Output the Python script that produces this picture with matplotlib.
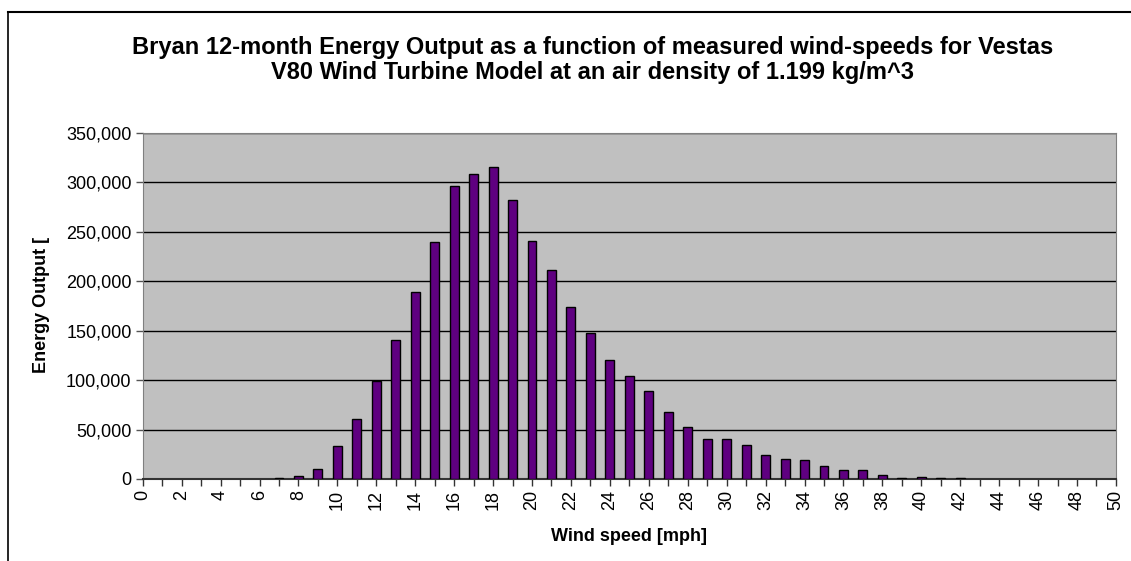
import matplotlib.pyplot as plt
from matplotlib.lines import Line2D
from matplotlib.ticker import FuncFormatter, MultipleLocator
import numpy as np

plt.rcParams['font.family'] = ['Liberation Sans', 'DejaVu Sans']

# wind speed bins (mph) and energy output
wind_speed = list(range(0, 51))
energy = [0, 0, 0, 0, 0, 0, 0, 1300, 3000, 10000,
          33000, 61000, 99000, 141000, 189000, 240000, 296000, 309000, 316000, 282000,
          241000, 211000, 174000, 148000, 120000, 104000, 89500, 68000, 52500, 40000,
          40000, 34400, 24500, 20000, 18700, 13000, 9200, 9200, 4100, 1000,
          2400, 1000, 1000, 0, 0, 0, 0, 0, 0, 0, 0]

title = ("Bryan 12-month Energy Output as a function of measured wind-speeds for Vestas\n"
         "V80 Wind Turbine Model at an air density of 1.199 kg/m^3")

fig = plt.figure(figsize=(11.31, 5.61), dpi=100)
ax = fig.add_axes([0.1262, 0.1462, 0.8605, 0.6167])

x = np.array(wind_speed)
y = np.array(energy)
mask = y > 0
ax.bar(x[mask], y[mask], width=0.46, color='#5F0080', edgecolor='black', linewidth=1.0, zorder=3)

ax.set_facecolor('#C0C0C0')
ax.set_xlim(0, 50)
ax.set_ylim(0, 350000)
ax.yaxis.set_major_locator(MultipleLocator(50000))
ax.yaxis.set_major_formatter(FuncFormatter(lambda v, p: f"{int(v):,}"))
ax.xaxis.set_major_locator(MultipleLocator(2))
ax.xaxis.set_minor_locator(MultipleLocator(1))
ax.grid(axis='y', color='black', linewidth=1.0, zorder=1)

ax.tick_params(axis='y', labelsize=13, length=5, width=1, color='#555555', pad=3)
ax.tick_params(axis='x', which='both', labelsize=13, length=5, width=1, color='#333333', pad=3)
ax.tick_params(axis='x', labelrotation=90)

for side in ['top', 'right']:
    ax.spines[side].set_color('#808080')
ax.spines['left'].set_color('#808080')
ax.spines['bottom'].set_color('#333333')
ax.spines['bottom'].set_linewidth(1.5)

ax.set_xlabel("Wind speed [mph]", fontsize=13, fontweight='bold')
ax.set_ylabel("Energy Output [", fontsize=13, fontweight='bold')
ax.xaxis.set_label_coords(0.4998, -0.142)
ax.yaxis.set_label_coords(-0.095, 0.503)

fig.text(0.524, 0.893, title, ha='center', va='center', fontsize=17,
         fontweight='bold', linespacing=1.12)

# chart frame
fig.add_artist(Line2D([8 / 1131, 1.0], [1 - 12 / 561, 1 - 12 / 561],
                      transform=fig.transFigure, color='black', linewidth=1.5))
fig.add_artist(Line2D([8 / 1131, 8 / 1131], [0.0, 1 - 12 / 561],
                      transform=fig.transFigure, color='black', linewidth=1.2))

fig.savefig("out.png", dpi=100)
